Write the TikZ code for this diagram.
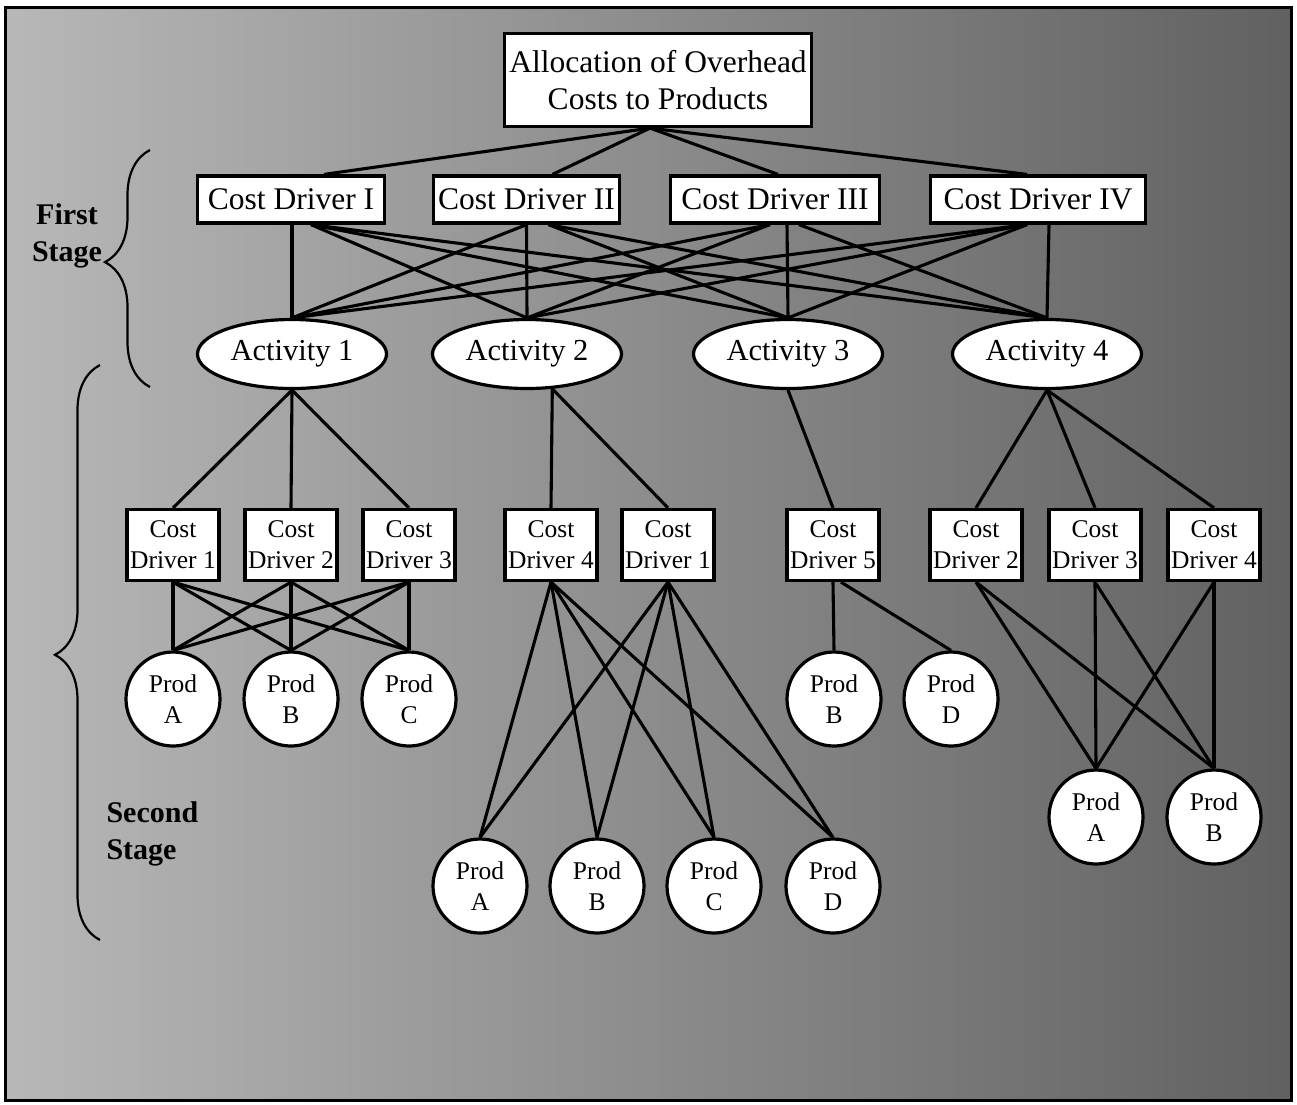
\documentclass[tikz,border=0pt]{standalone}
\usepackage{fontspec}
\setmainfont{Liberation Serif}
\usetikzlibrary{calc,decorations.pathreplacing,shapes.geometric}

\tikzset{
  conn/.style={line width=3.1pt},
  topbox/.style={draw, line width=3.2pt, fill=white, inner sep=0pt, align=center,
    minimum width=307pt, minimum height=93pt, font=\fontsize{31.5}{37}\selectfont},
  cdbig/.style={draw, line width=3.2pt, fill=white, inner sep=0pt, minimum height=47pt,
    font=\fontsize{31.5}{37}\selectfont},
  act/.style={draw, ellipse, line width=3.2pt, fill=white, minimum width=189pt,
    minimum height=69pt, inner sep=0pt, font=\fontsize{30.5}{36}\selectfont},
  cdsmall/.style={draw, line width=3.2pt, fill=white, minimum width=92pt,
    minimum height=71pt, inner sep=0pt, align=center, font=\fontsize{25.5}{31}\selectfont},
  prod/.style={draw, circle, line width=3.2pt, fill=white, minimum size=94pt,
    inner sep=0pt, align=center, font=\fontsize{25.5}{31}\selectfont},
  stagelbl/.style={font=\bfseries\fontsize{30}{37}\selectfont},
  stagebrace/.style={line width=2.2pt, decorate},
}

\begin{document}
\begin{tikzpicture}[x=1pt, y=-1pt]
  % page, shaded panel and frame
  \useasboundingbox (0,0) rectangle (1297,1104);
  \fill[white] (0,0) rectangle (1297,1104);
  \shade[left color=black!28, middle color=black!42, right color=black!62]
    (5,7) rectangle (1291,1100);
  \draw[line width=3pt] (5,7) rectangle (1291,1100);

  % root
  \node[topbox] (top) at (658,80) {Allocation of Overhead\\Costs to Products};

  % first-stage cost drivers
  \node[cdbig, minimum width=187pt] (cdI)   at (291,199.5)  {Cost Driver I};
  \node[cdbig, minimum width=186pt] (cdII)  at (526.5,199.5) {Cost Driver II};
  \node[cdbig, minimum width=209pt] (cdIII) at (775,199.5)  {Cost Driver III};
  \node[cdbig, minimum width=215pt] (cdIV)  at (1038,199.5) {Cost Driver IV};

  % activities
  \node[act] (a1) at (292,354)  {Activity 1};
  \node[act] (a2) at (527,354)  {Activity 2};
  \node[act] (a3) at (788,354)  {Activity 3};
  \node[act] (a4) at (1047,354) {Activity 4};

  % second-stage cost drivers
  \node[cdsmall] (d1a) at (173,545)  {Cost\\Driver 1};
  \node[cdsmall] (d1b) at (291,545)  {Cost\\Driver 2};
  \node[cdsmall] (d1c) at (409,545)  {Cost\\Driver 3};
  \node[cdsmall] (d2a) at (551,545)  {Cost\\Driver 4};
  \node[cdsmall] (d2b) at (668,545)  {Cost\\Driver 1};
  \node[cdsmall] (d3a) at (833,545)  {Cost\\Driver 5};
  \node[cdsmall] (d4a) at (976,545)  {Cost\\Driver 2};
  \node[cdsmall] (d4b) at (1095,545) {Cost\\Driver 3};
  \node[cdsmall] (d4c) at (1214,545) {Cost\\Driver 4};

  % products
  \node[prod] (p1a) at (173,699) {Prod\\A};
  \node[prod] (p1b) at (291,699) {Prod\\B};
  \node[prod] (p1c) at (409,699) {Prod\\C};
  \node[prod] (p2a) at (480,886) {Prod\\A};
  \node[prod] (p2b) at (597,886) {Prod\\B};
  \node[prod] (p2c) at (714,886) {Prod\\C};
  \node[prod] (p2d) at (833,886) {Prod\\D};
  \node[prod] (p3b) at (834,699) {Prod\\B};
  \node[prod] (p3d) at (951,699) {Prod\\D};
  \node[prod] (p4a) at (1096,817) {Prod\\A};
  \node[prod] (p4b) at (1214,817) {Prod\\B};

  % root to first-stage drivers
  \draw[conn] ([xshift=-8pt]top.south) -- ([xshift=33pt]cdI.north);
  \draw[conn] ([xshift=-8pt]top.south) -- ([xshift=26pt]cdII.north);
  \draw[conn] ([xshift=-8pt]top.south) -- ([xshift=3pt]cdIII.north);
  \draw[conn] ([xshift=-8pt]top.south) -- ([xshift=-11pt]cdIV.north);

  % first-stage drivers to activities
  \draw[conn] ([xshift=1pt]cdI.south)  -- (a1.north);
  \draw[conn] ([xshift=20pt]cdI.south) -- (a2.north);
  \draw[conn] ([xshift=20pt]cdI.south) -- (a3.north);
  \draw[conn] ([xshift=20pt]cdI.south) -- (a4.north);
  \draw[conn] ([xshift=0pt]cdII.south)  -- (a1.north);
  \draw[conn] ([xshift=0pt]cdII.south)  -- (a2.north);
  \draw[conn] ([xshift=22pt]cdII.south) -- (a3.north);
  \draw[conn] ([xshift=22pt]cdII.south) -- (a4.north);
  \draw[conn] ([xshift=-5pt]cdIII.south) -- (a1.north);
  \draw[conn] ([xshift=-5pt]cdIII.south) -- (a2.north);
  \draw[conn] ([xshift=12pt]cdIII.south) -- (a3.north);
  \draw[conn] ([xshift=24pt]cdIII.south) -- (a4.north);
  \draw[conn] ([xshift=-11pt]cdIV.south) -- (a1.north);
  \draw[conn] ([xshift=-11pt]cdIV.south) -- (a2.north);
  \draw[conn] ([xshift=-11pt]cdIV.south) -- (a3.north);
  \draw[conn] ([xshift=11pt]cdIV.south)  -- (a4.north);

  % activities to second-stage drivers
  \foreach \d in {d1a,d1b,d1c} \draw[conn] (a1.south) -- (\d.north);
  \foreach \d in {d2a,d2b} \draw[conn] (a2.306) -- (\d.north);
  \draw[conn] (a3.south) -- (d3a.north);
  \foreach \d in {d4a,d4b,d4c} \draw[conn] (a4.south) -- (\d.north);

  % second-stage drivers to products
  \foreach \d in {d1a,d1b,d1c}
    \foreach \p in {p1a,p1b,p1c}
      \draw[conn] (\d.south) -- (\p.north);
  \foreach \d in {d2a,d2b}
    \foreach \p in {p2a,p2b,p2c,p2d}
      \draw[conn] (\d.south) -- (\p.north);
  \draw[conn] (d3a.south) -- (p3b.north);
  \draw[conn] ([xshift=8pt]d3a.south) -- (p3d.north);
  \foreach \d in {d4a,d4b,d4c}
    \foreach \p in {p4a,p4b}
      \draw[conn] (\d.south) -- (\p.north);

  % stage braces and labels
  \draw[stagebrace, decoration={brace, amplitude=45pt, aspect=0.527}]
    (150,387) coordinate (b1s) -- (150,150) coordinate (b1e);
  \draw[stagebrace, decoration={brace, amplitude=45pt, aspect=0.496}]
    (100,940) coordinate (b2s) -- (100,365) coordinate (b2e);
  \node[stagelbl, align=center] (first) at (67,236) {First\\Stage};
  \node[stagelbl, align=left, anchor=west] (second) at (103,834) {Second\\Stage};
\end{tikzpicture}
\end{document}
